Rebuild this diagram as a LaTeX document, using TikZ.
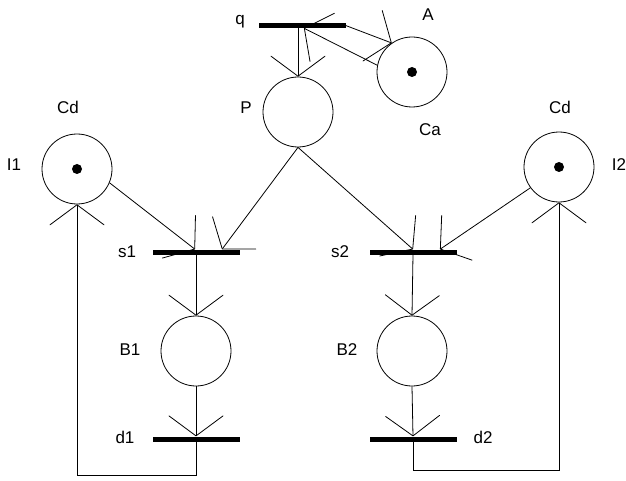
\documentclass[tikz,border=0pt]{standalone}
\usepackage{fontspec}
\setmainfont{Liberation Sans}
\usetikzlibrary{arrows.meta}
\begin{document}
\begin{tikzpicture}[x=1pt,y=-1pt,
  place/.style={circle,draw,line width=0.8pt,minimum size=70pt,inner sep=0pt},
  trans/.style={rectangle,fill=black,minimum width=87pt,minimum height=5pt,inner sep=0pt},
  tok/.style={circle,fill=black,minimum size=10pt,inner sep=0pt},
  lbl/.style={font=\fontsize{17}{17}\selectfont,inner sep=0pt},
  arc/.style={line width=0.8pt,-{Straight Barb[length=20pt,width=54pt,round]}}
]
\useasboundingbox (0,0) rectangle (626,481);
% transitions
\node[trans] (q)  at (302,25.5) {};
\node[trans] (s1) at (196,252) {};
\node[trans] (s2) at (413,252) {};
\node[trans] (d1) at (196,439) {};
\node[trans] (d2) at (413,439) {};
% places
\node[place] (P)  at (298,112) {};
\node[place] (A)  at (412,72) {};
\node[place] (I1) at (77,169) {};
\node[place] (I2) at (559,167) {};
\node[place] (B1) at (196,351) {};
\node[place] (B2) at (412,351) {};
% tokens
\node[tok] (tA)  at (A) {};
\node[tok] (tI1) at (I1) {};
\node[tok] (tI2) at (I2) {};
% corner points
\coordinate (b1) at (77,475);
\coordinate (b2) at (559,470);
% arcs
\draw[arc] (P.north |- q.center) -- (P.north);
\draw[arc] (q.east) -- (A.125);
\draw[arc] (A.169) -- ([xshift=2pt]q.south);
\draw[arc] (P.south) -- ([xshift=26pt]s1.north);
\draw[arc] (P.south) -- (s2.north);
\draw[arc] (I1.-23) -- ([xshift=-1pt]s1.north);
\draw[arc] (I2.216) -- ([xshift=27pt]s2.north);
\draw[arc] (s1.south) -- (B1.north);
\draw[arc] (s2.south) -- (B2.north);
\draw[arc] (B1.south) -- (d1.north);
\draw[arc] (B2.south) -- (d2.north);
\draw[arc] (d1.south) |- (b1) -- (I1.south);
\draw[arc] (d2.south) |- (b2) -- (I2.south);
% labels
\node[lbl] (lq)  at (240,22) {q};
\node[lbl] (lA)  at (428,15) {A};
\node[lbl] (lP)  at (246,108) {P};
\node[lbl] (lCa) at (430,130) {Ca};
\node[lbl] (lCd1) at (68,107) {Cd};
\node[lbl] (lCd2) at (560,107) {Cd};
\node[lbl] (lI1) at (14,165) {I1};
\node[lbl] (lI2) at (619,165) {I2};
\node[lbl] (ls1) at (127,252) {s1};
\node[lbl] (ls2) at (340,252) {s2};
\node[lbl] (lB1) at (130,350) {B1};
\node[lbl] (lB2) at (347,350) {B2};
\node[lbl] (ld1) at (125,437) {d1};
\node[lbl] (ld2) at (483,437) {d2};
\end{tikzpicture}
\end{document}
